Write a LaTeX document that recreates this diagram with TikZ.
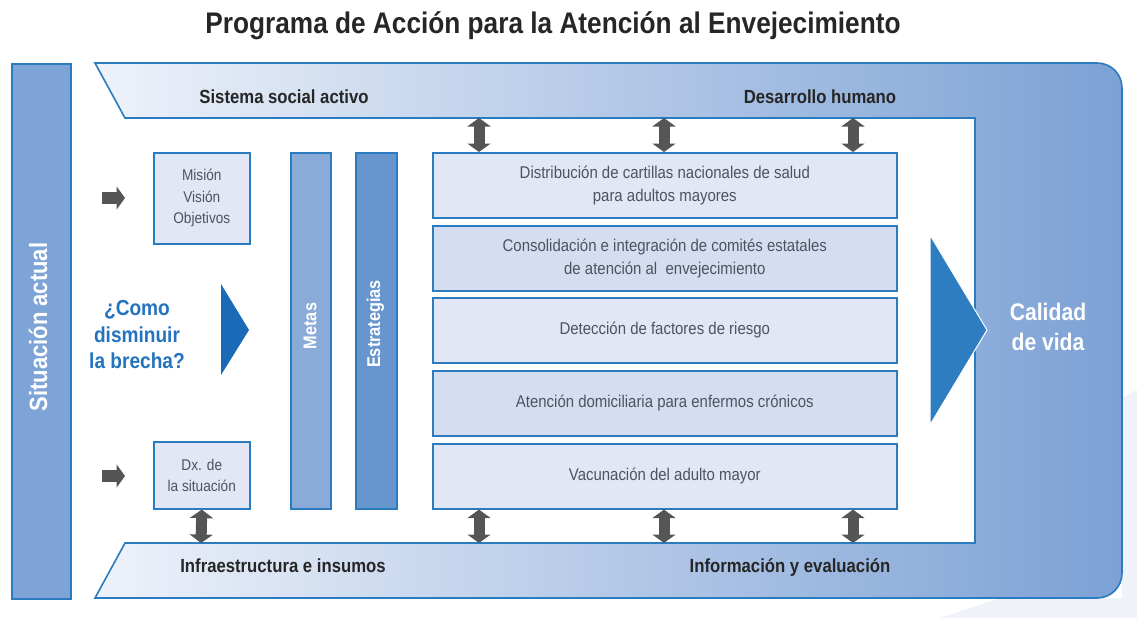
\documentclass[tikz,border=0pt]{standalone}
\usepackage{fontspec}
\setmainfont{Liberation Sans}[FakeStretch=0.88]
\usetikzlibrary{arrows.meta}
\definecolor{bandblue}{HTML}{2B7BC0}
\definecolor{boxA}{HTML}{E1E7F5}
\definecolor{boxB}{HTML}{D5DDF0}
\definecolor{barL}{HTML}{7EA3D6}
\definecolor{metasc}{HTML}{8AAAD8}
\definecolor{estrc}{HTML}{6795CD}
\definecolor{triL}{HTML}{1A6AB8}
\definecolor{triR}{HTML}{2F7DC1}
\definecolor{qblue}{HTML}{2473BF}
\definecolor{agray}{HTML}{555555}
\definecolor{tgray}{HTML}{4E5361}
\definecolor{darktxt}{HTML}{262626}
\definecolor{bandL}{HTML}{EEF2FA}
\definecolor{bandR}{HTML}{7CA1D5}
\definecolor{ghost}{HTML}{EFF2F8}
\tikzset{
  frame/.style={draw=bandblue,line width=1.6pt},
  plainbox/.style={frame,anchor=north west,inner sep=0pt,align=center},
  actbox/.style={plainbox,fill=boxA,minimum width=464pt,minimum height=65pt,
    font=\fontsize{17}{23}\selectfont,text=tgray},
  actboxB/.style={actbox,fill=boxB},
  smallbox/.style={plainbox,fill=boxA,minimum width=96pt,
    font=\fontsize{15.5}{21.5}\selectfont,text=tgray},
  bandlabel/.style={anchor=base,font=\bfseries\fontsize{19}{23}\selectfont,text=darktxt},
  vlabel/.style={rotate=90,text=white,font=\bfseries\fontsize{18.5}{22}\selectfont},
  dbl/.style={draw=agray,line width=11pt,
    {Triangle[length=8.5pt,width=23pt]}-{Triangle[length=8.5pt,width=23pt]}},
  blk/.style={draw=agray,line width=12pt,-{Triangle[length=8.5pt,width=23pt]}}
}
\begin{document}
\begin{tikzpicture}[x=1pt,y=-1pt]
\useasboundingbox (0,0) rectangle (1137,618);
% faint background shape
\fill[ghost] (1122,398) -- (1137,390) -- (1137,618) -- (940,618) -- (1000,598) -- (1122,598) -- cycle;
% title
\node[anchor=base,font=\bfseries\fontsize{29.8}{34}\selectfont,text=darktxt] (title) at (553,34)
  {Programa de Acción para la Atención al Envejecimiento};
% left bar
\node[plainbox,fill=barL,minimum width=59pt,minimum height=535pt] (sit) at (11,63) {};
\node[rotate=90,text=white,font=\bfseries\fontsize{25}{30}\selectfont] (sitl) at (38,327) {Situación actual};
% band
\draw[frame,left color=bandL,right color=bandR]
  (95,63) -- (1097,63) .. controls (1111,63) and (1122,74) .. (1122,88)
  -- (1122,573) .. controls (1122,587) and (1111,598) .. (1097,598)
  -- (95,598) -- (125,543) -- (975,543) -- (975,118) -- (125,118) -- cycle;
\node[bandlabel] (ssa) at (284,103) {Sistema social activo};
\node[bandlabel] (dh) at (820,103) {Desarrollo humano};
\node[bandlabel] (ei) at (283,572) {Infraestructura e insumos};
\node[bandlabel] (ie) at (790,572) {Información y evaluación};
% left boxes
\node[smallbox,minimum height=91pt] (mision) at (153,152) {Misión\\Visión\\Objetivos};
\node[smallbox,minimum height=67pt] (dx) at (153,441) {Dx. de\\la situación};
% bars
\node[plainbox,fill=metasc,minimum width=40pt,minimum height=356pt] (metas) at (290,152) {};
\node[plainbox,fill=estrc,minimum width=41pt,minimum height=356pt] (estr) at (355,152) {};
\node[vlabel] (metasl) at (310,326) {Metas};
\node[vlabel] (estrl) at (375.5,324) {Estrategias};
% question
\node[align=center,text=qblue,font=\bfseries\fontsize{21.7}{26.5}\selectfont] (q) at (137,335)
  {¿Como\\disminuir\\la brecha?};
\fill[triL] (221,284) -- (249,330) -- (221,375) -- cycle;
% action boxes
\node[actbox] (a1) at (432,152) {Distribución de cartillas nacionales de salud\\para adultos mayores};
\node[actboxB] (a2) at (432,225) {Consolidación e integración de comités estatales\\de atención al\ \ envejecimiento};
\node[actbox] (a3) at (432,297) {Detección de factores de riesgo};
\node[actboxB] (a4) at (432,370) {Atención domiciliaria para enfermos crónicos};
\node[actbox] (a5) at (432,443) {Vacunación del adulto mayor};
% big arrow
\filldraw[fill=triR,draw=white,line width=1pt] (930,235) -- (987,330) -- (930,425) -- cycle;
\node[align=center,text=white,font=\bfseries\fontsize{24}{30}\selectfont] (cv) at (1048,327) {Calidad\\de vida};
% small arrows
\coordinate (s1) at (102,198); \coordinate (e1) at (125,198);
\coordinate (s2) at (102,476); \coordinate (e2) at (125,476);
\draw[blk] (s1) -- (e1);
\draw[blk] (s2) -- (e2);
% double arrows top
\coordinate (tA) at (479,118); \coordinate (tB) at (664,118); \coordinate (tC) at (853,118);
\draw[dbl] (tA) -- (a1.north -| tA);
\draw[dbl] (tB) -- (a1.north -| tB);
\draw[dbl] (tC) -- (a1.north -| tC);
% double arrows bottom
\coordinate (bA) at (479,543); \coordinate (bB) at (664,543); \coordinate (bC) at (853,543);
\coordinate (bD) at (201,543);
\draw[dbl] (a5.south -| bA) -- (bA);
\draw[dbl] (a5.south -| bB) -- (bB);
\draw[dbl] (a5.south -| bC) -- (bC);
\draw[dbl] (dx.south) -- (bD);
\end{tikzpicture}
\end{document}
